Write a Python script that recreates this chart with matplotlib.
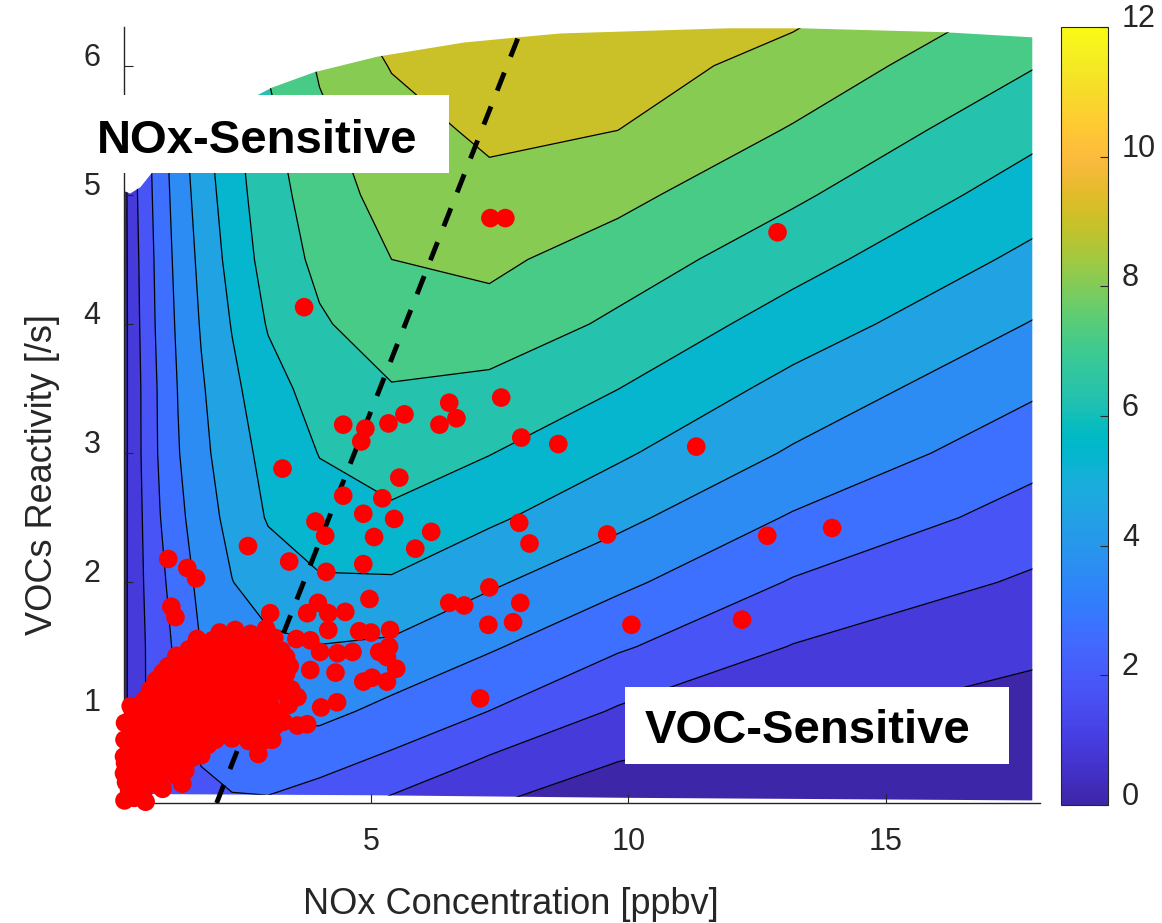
import numpy as np
import matplotlib
matplotlib.use("Agg")
import matplotlib.pyplot as plt
from matplotlib.colors import LinearSegmentedColormap, Normalize
from matplotlib.cm import ScalarMappable
from matplotlib.patches import Polygon, Rectangle

plt.rcParams['font.family'] = ['Liberation Sans', 'DejaVu Sans']

# MATLAB parula, 64 steps
parula_rgb = [
    [0.2422, 0.1504, 0.6603], [0.2504, 0.1650, 0.7076], [0.2578, 0.1818, 0.7511], [0.2647, 0.1978, 0.7952],
    [0.2706, 0.2147, 0.8364], [0.2751, 0.2342, 0.8710], [0.2783, 0.2559, 0.8991], [0.2803, 0.2782, 0.9221],
    [0.2813, 0.3006, 0.9414], [0.2810, 0.3228, 0.9579], [0.2795, 0.3447, 0.9717], [0.2760, 0.3667, 0.9829],
    [0.2699, 0.3892, 0.9906], [0.2602, 0.4123, 0.9952], [0.2440, 0.4358, 0.9988], [0.2206, 0.4603, 0.9973],
    [0.1963, 0.4847, 0.9892], [0.1834, 0.5074, 0.9798], [0.1786, 0.5289, 0.9682], [0.1764, 0.5499, 0.9520],
    [0.1687, 0.5703, 0.9359], [0.1540, 0.5902, 0.9218], [0.1460, 0.6091, 0.9079], [0.1380, 0.6276, 0.8973],
    [0.1248, 0.6459, 0.8883], [0.1113, 0.6635, 0.8763], [0.0952, 0.6798, 0.8598], [0.0689, 0.6948, 0.8394],
    [0.0297, 0.7082, 0.8163], [0.0036, 0.7203, 0.7917], [0.0067, 0.7312, 0.7660], [0.0433, 0.7411, 0.7394],
    [0.0964, 0.7500, 0.7120], [0.1408, 0.7584, 0.6842], [0.1717, 0.7670, 0.6554], [0.1938, 0.7758, 0.6251],
    [0.2161, 0.7843, 0.5923], [0.2470, 0.7918, 0.5567], [0.2906, 0.7973, 0.5188], [0.3406, 0.8008, 0.4789],
    [0.3909, 0.8029, 0.4354], [0.4456, 0.8024, 0.3909], [0.5044, 0.7993, 0.3480], [0.5616, 0.7942, 0.3045],
    [0.6174, 0.7876, 0.2612], [0.6720, 0.7793, 0.2227], [0.7242, 0.7698, 0.1910], [0.7738, 0.7598, 0.1646],
    [0.8203, 0.7498, 0.1535], [0.8634, 0.7406, 0.1596], [0.9035, 0.7330, 0.1774], [0.9393, 0.7288, 0.2100],
    [0.9728, 0.7298, 0.2394], [0.9956, 0.7434, 0.2371], [0.9970, 0.7659, 0.2199], [0.9952, 0.7893, 0.2028],
    [0.9892, 0.8136, 0.1885], [0.9786, 0.8386, 0.1766], [0.9676, 0.8639, 0.1643], [0.9610, 0.8890, 0.1537],
    [0.9597, 0.9135, 0.1423], [0.9628, 0.9373, 0.1265], [0.9691, 0.9606, 0.1064], [0.9769, 0.9839, 0.0805],
]
parula = LinearSegmentedColormap.from_list("parula", parula_rgb, N=256)

# ozone production surface on a NOx x VOCR grid
nox_grid = [0.2, 0.3, 0.45, 0.65, 0.9, 1.25, 1.7, 2.3, 3.0, 4.0, 5.4, 7.3, 9.8, 13.2, 17.9]
vocr_grid = [0.3, 0.6, 1.0, 1.5, 2.0, 2.5, 3.0, 3.5, 4.0, 4.5, 5.0, 5.5, 6.0, 6.3]
po3 = [
    [0.70, 0.98, 1.35, 1.80, 2.10, 2.35, 2.50, 2.62, 2.62, 2.30, 1.65, 0.95, 0.50, 0.25, 0.10],
    [0.73, 1.00, 1.35, 1.82, 2.05, 2.35, 2.72, 2.95, 3.10, 2.95, 2.48, 1.64, 0.88, 0.50, 0.32],
    [0.73, 1.00, 1.35, 1.87, 2.20, 2.65, 3.10, 3.62, 3.85, 3.85, 3.35, 2.69, 1.70, 1.03, 0.62],
    [0.73, 1.00, 1.40, 1.88, 2.32, 2.91, 3.62, 3.98, 4.30, 4.47, 4.35, 3.70, 2.81, 1.76, 1.05],
    [0.73, 1.00, 1.46, 1.98, 2.48, 3.15, 3.83, 4.48, 4.95, 5.30, 5.30, 4.63, 3.80, 2.63, 1.65],
    [0.73, 1.00, 1.50, 2.07, 2.68, 3.38, 4.06, 4.79, 5.47, 5.95, 6.15, 5.55, 4.73, 3.51, 2.33],
    [0.70, 1.00, 1.55, 2.17, 2.82, 3.55, 4.26, 5.03, 5.66, 6.33, 6.70, 6.33, 5.53, 4.40, 3.00],
    [0.70, 1.00, 1.55, 2.20, 2.85, 3.63, 4.40, 5.19, 5.97, 6.65, 7.15, 6.95, 6.31, 5.11, 3.73],
    [0.70, 1.00, 1.62, 2.28, 2.96, 3.75, 4.57, 5.45, 6.37, 7.10, 7.65, 7.80, 7.03, 5.90, 4.44],
    [0.70, 1.02, 1.68, 2.33, 3.03, 3.87, 4.72, 5.71, 6.66, 7.41, 8.10, 8.28, 7.68, 6.64, 5.16],
    [0.70, 1.05, 1.76, 2.41, 3.14, 3.99, 4.89, 5.91, 6.82, 7.64, 8.45, 8.75, 8.34, 7.35, 5.86],
    [0.70, 1.10, 1.83, 2.50, 3.23, 4.14, 5.09, 6.07, 6.98, 7.92, 8.63, 9.18, 9.00, 8.03, 6.53],
    [0.70, 1.15, 1.90, 2.60, 3.35, 4.25, 5.25, 6.22, 7.25, 8.19, 9.05, 9.55, 9.40, 8.67, 7.23],
    [0.70, 1.20, 1.95, 2.65, 3.45, 4.35, 5.40, 6.40, 7.50, 8.50, 9.30, 9.75, 9.65, 9.05, 7.65],
]
levels = [0.0, 0.9, 1.8, 2.7, 3.6, 4.5, 5.4, 6.3, 7.2, 8.1, 9.0, 9.9]

# edges of the modelled domain
top_nox = [0.2, 0.32, 0.52, 0.72, 1.2, 2.0, 2.83, 3.07, 3.9, 5.12, 6.81, 7.86, 8.68, 11.94, 13.36, 16.12, 17.85]
top_vocr = [5.03, 5.01, 5.06, 5.16, 5.35, 5.58, 5.78, 5.83, 5.95, 6.07, 6.18, 6.22, 6.25, 6.29, 6.29, 6.26, 6.22]
bottom_nox = [0.2, 5.0, 10.0, 17.85]
bottom_vocr = [0.36, 0.35, 0.33, 0.31]

# observations: dense low-NOx / low-VOCR group
dense_nox = [
    0.21, 0.40, 0.62, 0.30, 0.58, 0.95, 0.24, 0.52, 0.83,
    0.20, 0.36, 0.65, 0.95, 1.22, 0.22, 0.47, 0.76, 1.07, 1.36,
    0.20, 0.36, 0.62, 0.92, 1.22, 1.52, 1.70,
    0.30, 0.58, 0.88, 1.18, 1.50, 1.83,
    0.21, 0.45, 0.75, 1.05, 1.35, 1.65, 1.98, 2.30, 2.62, 2.95,
    0.36, 0.66, 0.96, 1.26, 1.56, 1.86, 2.15, 2.46, 2.78, 3.12,
    0.22, 0.52, 0.82, 1.12, 1.42, 1.72, 2.02, 2.32, 2.62, 2.95, 3.30,
    0.46, 0.77, 1.04, 1.36, 1.66, 1.94, 2.26, 2.56, 2.87, 3.22,
    0.33, 0.62, 0.92, 1.22, 1.52, 1.82, 2.12, 2.42, 2.72, 3.05, 3.40,
    0.60, 0.92, 1.21, 1.50, 1.81, 2.10, 2.41, 2.70, 3.01, 3.36,
    0.72, 1.02, 1.32, 1.62, 1.92, 2.22, 2.52, 2.82, 3.12, 3.45,
    0.82, 1.12, 1.41, 1.72, 2.01, 2.31, 2.62, 2.92, 3.22,
    0.95, 1.25, 1.55, 1.85, 2.15, 2.45, 2.75, 3.05, 3.35,
    1.06, 1.37, 1.66, 1.96, 2.26, 2.57, 2.86, 3.16, 3.42,
    1.22, 1.52, 1.82, 2.12, 2.42, 2.72, 3.02, 3.35,
    1.46, 1.76, 2.06, 2.36, 2.66, 2.95, 3.26, 3.55,
    1.62, 1.92, 2.22, 2.52, 2.82, 3.12,
    2.06, 2.36, 2.66, 2.96,
]
dense_vocr = [
    0.31, 0.33, 0.30, 0.39, 0.38, 0.40, 0.45, 0.47, 0.44,
    0.52, 0.53, 0.51, 0.52, 0.50, 0.60, 0.57, 0.59, 0.61, 0.58,
    0.65, 0.66, 0.64, 0.66, 0.65, 0.64, 0.66,
    0.72, 0.70, 0.73, 0.69, 0.72, 0.74,
    0.78, 0.79, 0.77, 0.78, 0.79, 0.77, 0.78, 0.79, 0.77, 0.78,
    0.85, 0.83, 0.86, 0.82, 0.85, 0.87, 0.83, 0.86, 0.84, 0.88,
    0.91, 0.92, 0.90, 0.91, 0.92, 0.90, 0.91, 0.92, 0.90, 0.91, 0.92,
    0.98, 0.96, 0.99, 0.95, 0.98, 0.96, 0.99, 0.95, 0.98, 0.97,
    1.04, 1.05, 1.03, 1.04, 1.05, 1.03, 1.04, 1.05, 1.03, 1.04, 1.05,
    1.09, 1.12, 1.08, 1.11, 1.09, 1.12, 1.08, 1.11, 1.09, 1.12,
    1.17, 1.18, 1.16, 1.17, 1.18, 1.16, 1.17, 1.18, 1.16, 1.17,
    1.24, 1.22, 1.25, 1.21, 1.24, 1.22, 1.25, 1.21, 1.24,
    1.30, 1.31, 1.29, 1.30, 1.31, 1.29, 1.30, 1.31, 1.29,
    1.35, 1.37, 1.34, 1.38, 1.35, 1.37, 1.34, 1.38, 1.35,
    1.43, 1.42, 1.44, 1.43, 1.42, 1.44, 1.43, 1.42,
    1.48, 1.50, 1.47, 1.51, 1.48, 1.50, 1.47, 1.56,
    1.56, 1.55, 1.57, 1.56, 1.55, 1.57,
    1.61, 1.63, 1.60, 1.64,
]
# observations: scattered points
spread_nox = [
    3.04, 3.76, 3.97, 4.17, 4.17, 3.82, 4.35, 4.64, 4.31, 4.77, 5.00, 5.37, 5.35, 5.16, 5.31,
    4.01, 4.85, 5.02, 5.31, 5.49, 3.57, 3.76, 4.34, 4.03, 3.82, 3.57, 3.08, 2.81, 1.33, 1.39, 4.50,
    7.32, 7.61, 12.90, 3.70, 4.46, 4.89, 4.81, 5.34, 5.65, 6.33, 6.52, 6.66, 7.53, 7.92, 8.64, 11.32,
    3.28, 5.55, 4.46, 5.22, 4.85, 5.45, 3.92, 4.11, 5.06, 6.17, 5.86, 7.88, 8.08, 9.59, 12.70, 13.96,
    2.61, 3.41, 4.13, 4.85, 1.06, 1.43, 1.60, 7.30, 4.97, 6.52, 6.81, 7.90, 1.12, 1.20, 7.28, 7.76,
    10.06, 12.21, 7.12,
]
spread_vocr = [
    1.76, 1.76, 1.84, 1.76, 1.63, 1.55, 1.45, 1.46, 1.30, 1.62, 1.61, 1.63, 1.50, 1.46, 1.42,
    1.46, 1.23, 1.26, 1.23, 1.33, 0.89, 0.90, 1.07, 1.03, 1.32, 1.11, 0.78, 0.67, 0.44, 0.54, 1.77,
    4.82, 4.82, 4.71, 4.13, 3.22, 3.19, 3.09, 3.23, 3.30, 3.22, 3.39, 3.27, 3.43, 3.12, 3.07, 3.05,
    2.88, 2.81, 2.67, 2.65, 2.53, 2.49, 2.47, 2.36, 2.35, 2.39, 2.26, 2.46, 2.30, 2.37, 2.36, 2.42,
    2.28, 2.16, 2.08, 2.14, 2.18, 2.11, 2.03, 1.96, 1.87, 1.84, 1.82, 1.84, 1.81, 1.73, 1.67, 1.69,
    1.67, 1.71, 1.10,
]

# regime divide
divide_nox = [2.0, 7.9]
divide_vocr = [0.29, 6.26]

W, H = 1162, 923
fig = plt.figure(figsize=(W / 100, H / 100), dpi=100)
ax = fig.add_axes([124 / W, 1 - 803 / H, 916 / W, 776 / H])
cax = fig.add_axes([1061 / W, 1 - 805 / H, 47 / W, 778 / H])

band_colors = [parula(lv / 12.0) for lv in levels[:-1]]
cf = ax.contourf(nox_grid, vocr_grid, po3, levels=levels, colors=band_colors, zorder=1)
cl = ax.contour(nox_grid, vocr_grid, po3, levels=levels[1:-1], colors='k', linewidths=0.9, zorder=1.5)

domain = list(zip(bottom_nox, bottom_vocr)) + list(zip(top_nox, top_vocr))[::-1]
clip = Polygon(domain, closed=True, transform=ax.transData)
cf.set_clip_path(clip)
cl.set_clip_path(clip)

ax.plot(divide_nox, divide_vocr, color='k', lw=3.5, ls=(0, (4, 3.5)), zorder=2.8)
ax.scatter(dense_nox + spread_nox, dense_vocr + spread_vocr, s=180, c='red',
           edgecolors='none', zorder=3, clip_on=False)

ax.set_xlim(0.2, 18)
ax.set_ylim(0.29, 6.3)
ax.set_xticks([5, 10, 15])
ax.set_yticks([1, 2, 3, 4, 5, 6])
for side in ['top', 'right']:
    ax.spines[side].set_visible(False)
for side in ['left', 'bottom']:
    ax.spines[side].set_color('#262626')
    ax.spines[side].set_linewidth(1.0)
ax.tick_params(direction='in', length=6.5, width=0.8, colors='#262626', labelsize=22, pad=17)
for lbl in ax.get_yticklabels():
    lbl.set_verticalalignment('baseline')

ax.set_xlabel('NOx Concentration [ppbv]', fontsize=26, color='#262626')
ax.set_ylabel('VOCs Reactivity [/s]', fontsize=26, color='#262626')
ax.xaxis.set_label_coords(0.4225, -0.108)
ax.yaxis.set_label_coords(-0.07, 0.423)

cb = fig.colorbar(ScalarMappable(norm=Normalize(0, 12), cmap=parula), cax=cax)
cb.set_ticks([0, 2, 4, 6, 8, 10, 12])
cb.outline.set_edgecolor('#262626')
cb.outline.set_linewidth(0.8)
cax.tick_params(direction='in', length=5.5, width=0.8, colors='#262626', labelsize=22, pad=10)
for lbl in cax.get_yticklabels():
    lbl.set_verticalalignment('baseline')

# regime labels
fig.add_artist(Rectangle((77 / W, 1 - 173 / H), 372 / W, 78 / H, transform=fig.transFigure,
                         facecolor='white', edgecolor='none', zorder=5))
fig.text(97 / W, 1 - 153 / H, 'NOx-Sensitive', fontsize=34, fontweight='bold', va='baseline', zorder=6)
fig.add_artist(Rectangle((625 / W, 1 - 764 / H), 384 / W, 77 / H, transform=fig.transFigure,
                         facecolor='white', edgecolor='none', zorder=5))
fig.text(645 / W, 1 - 743 / H, 'VOC-Sensitive', fontsize=34, fontweight='bold', va='baseline', zorder=6)

fig.savefig('out.png', dpi=100, facecolor='white')
